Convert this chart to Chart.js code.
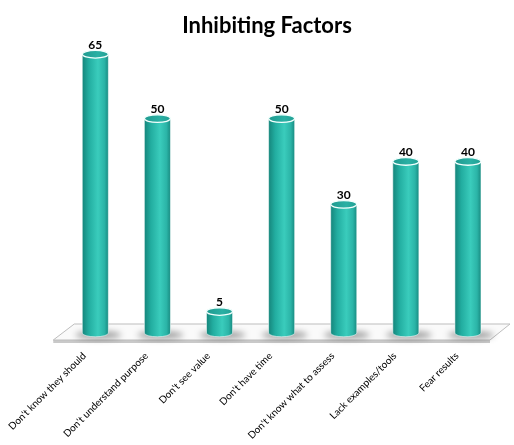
<!DOCTYPE html>
<html>
<head>
<meta charset="utf-8">
<script src="https://cdn.jsdelivr.net/npm/chart.js@4.4.1/dist/chart.umd.min.js"></script>
<style>
  html, body { margin: 0; padding: 0; background: #fff; }
  #wrap { width: 514px; height: 445px; }
</style>
</head>
<body>
<div id="wrap"><canvas id="c"></canvas></div>
<script>
const categories = ["Don't know they should", "Don't understand purpose", "Don't see value", "Don't have time", "Don't know what to assess", "Lack examples/tools", "Fear results"];
const values = [65, 50, 5, 50, 30, 40, 40];
const chartTitle = "Inhibiting Factors";

const FONT = "Lato, 'Open Sans', sans-serif";

const floorPlugin = {
  id: 'floor3d',
  beforeDatasetsDraw(chart) {
    const { ctx, chartArea } = chart;
    const base = chart.scales.y.getPixelForValue(0);
    const L = chartArea.left, R = chartArea.right;
    const backY = base - 9, frontY = base + 7;
    ctx.save();
    ctx.beginPath();
    ctx.moveTo(L - 11, frontY);
    ctx.lineTo(R - 9, frontY);
    ctx.lineTo(R - 9, frontY + 3);
    ctx.lineTo(L - 11, frontY + 3);
    ctx.closePath();
    ctx.fillStyle = '#C9C9C9';
    ctx.fill();
    ctx.beginPath();
    ctx.moveTo(L + 10, backY);
    ctx.lineTo(R + 11, backY);
    ctx.lineTo(R - 9, frontY);
    ctx.lineTo(L - 11, frontY);
    ctx.closePath();
    ctx.fillStyle = '#FAFAFA';
    ctx.fill();
    ctx.strokeStyle = '#BDBDBD';
    ctx.lineWidth = 1;
    ctx.stroke();
    ctx.restore();
  }
};

const cylinderPlugin = {
  id: 'cylinders',
  afterDatasetsDraw(chart) {
    const { ctx } = chart;
    const meta = chart.getDatasetMeta(0);
    meta.data.forEach((bar, i) => {
      const x = bar.x, top = bar.y, base = bar.base, w = bar.width;
      const rx = w / 2, ry = 3.8;
      const left = x - rx, right = x + rx;
      ctx.save();
      ctx.filter = 'blur(3px)';
      ctx.beginPath();
      ctx.ellipse(x + 3, base + 2, rx * 1.75, 3.5, 0, 0, Math.PI * 2);
      ctx.fillStyle = 'rgba(0,0,0,0.4)';
      ctx.fill();
      ctx.filter = 'none';
      const g = ctx.createLinearGradient(left, 0, right, 0);
      g.addColorStop(0, '#15857B');
      g.addColorStop(0.25, '#22ADA0');
      g.addColorStop(0.6, '#3ACCBC');
      g.addColorStop(0.85, '#2BB4A7');
      g.addColorStop(1, '#188B81');
      ctx.beginPath();
      ctx.moveTo(left, top);
      ctx.lineTo(left, base);
      ctx.ellipse(x, base, rx, ry, 0, Math.PI, 0, true);
      ctx.lineTo(right, top);
      ctx.closePath();
      ctx.fillStyle = g;
      ctx.fill();
      ctx.strokeStyle = 'rgba(255,255,255,0.55)';
      ctx.lineWidth = 1;
      ctx.stroke();
      ctx.beginPath();
      ctx.ellipse(x, top, rx, ry, 0, 0, Math.PI * 2);
      const tg = ctx.createLinearGradient(left, 0, right, 0);
      tg.addColorStop(0, '#1F9A8F');
      tg.addColorStop(0.6, '#2AB0A4');
      tg.addColorStop(1, '#22A094');
      ctx.fillStyle = tg;
      ctx.fill();
      ctx.strokeStyle = '#F2FFFD';
      ctx.lineWidth = 1.3;
      ctx.stroke();
      ctx.fillStyle = '#000';
      ctx.font = "bold 12px " + FONT;
      ctx.textAlign = 'center';
      ctx.textBaseline = 'alphabetic';
      ctx.fillText(String(values[i]), x, top - ry - 1.5);
      ctx.restore();
    });
  }
};

new Chart(document.getElementById('c'), {
  type: 'bar',
  data: {
    labels: categories,
    datasets: [{
      data: values,
      backgroundColor: 'rgba(0,0,0,0)',
      borderWidth: 0,
      barPercentage: 0.42,
      categoryPercentage: 1.0
    }]
  },
  options: {
    responsive: true,
    maintainAspectRatio: false,
    animation: false,
    layout: { padding: { left: 20, right: 0, top: 0, bottom: 0 } },
    plugins: {
      legend: { display: false },
      tooltip: { enabled: false },
      title: {
        display: true,
        text: chartTitle,
        color: '#000',
        font: { family: FONT, size: 22, weight: 'bold' },
        padding: { top: 13, bottom: 2 }
      }
    },
    scales: {
      y: {
        display: true,
        position: 'left',
        min: 0,
        max: 68,
        grid: { display: false, drawTicks: false },
        border: { display: false },
        ticks: { display: false },
        afterFit(scale) { scale.width = 40; }
      },
      y2: {
        display: true,
        position: 'right',
        min: 0,
        max: 68,
        grid: { display: false, drawTicks: false },
        border: { display: false },
        ticks: { display: false },
        afterFit(scale) { scale.width = 15; }
      },
      x: {
        grid: { display: false, drawTicks: false },
        border: { display: false },
        afterFit(scale) { scale.height = 112; },
        ticks: {
          color: '#000',
          font: { family: FONT, size: 10 },
          maxRotation: 45,
          minRotation: 45,
          padding: 17,
          labelOffset: -11,
          autoSkip: false
        }
      }
    }
  },
  plugins: [floorPlugin, cylinderPlugin]
});
</script>
</body>
</html>
